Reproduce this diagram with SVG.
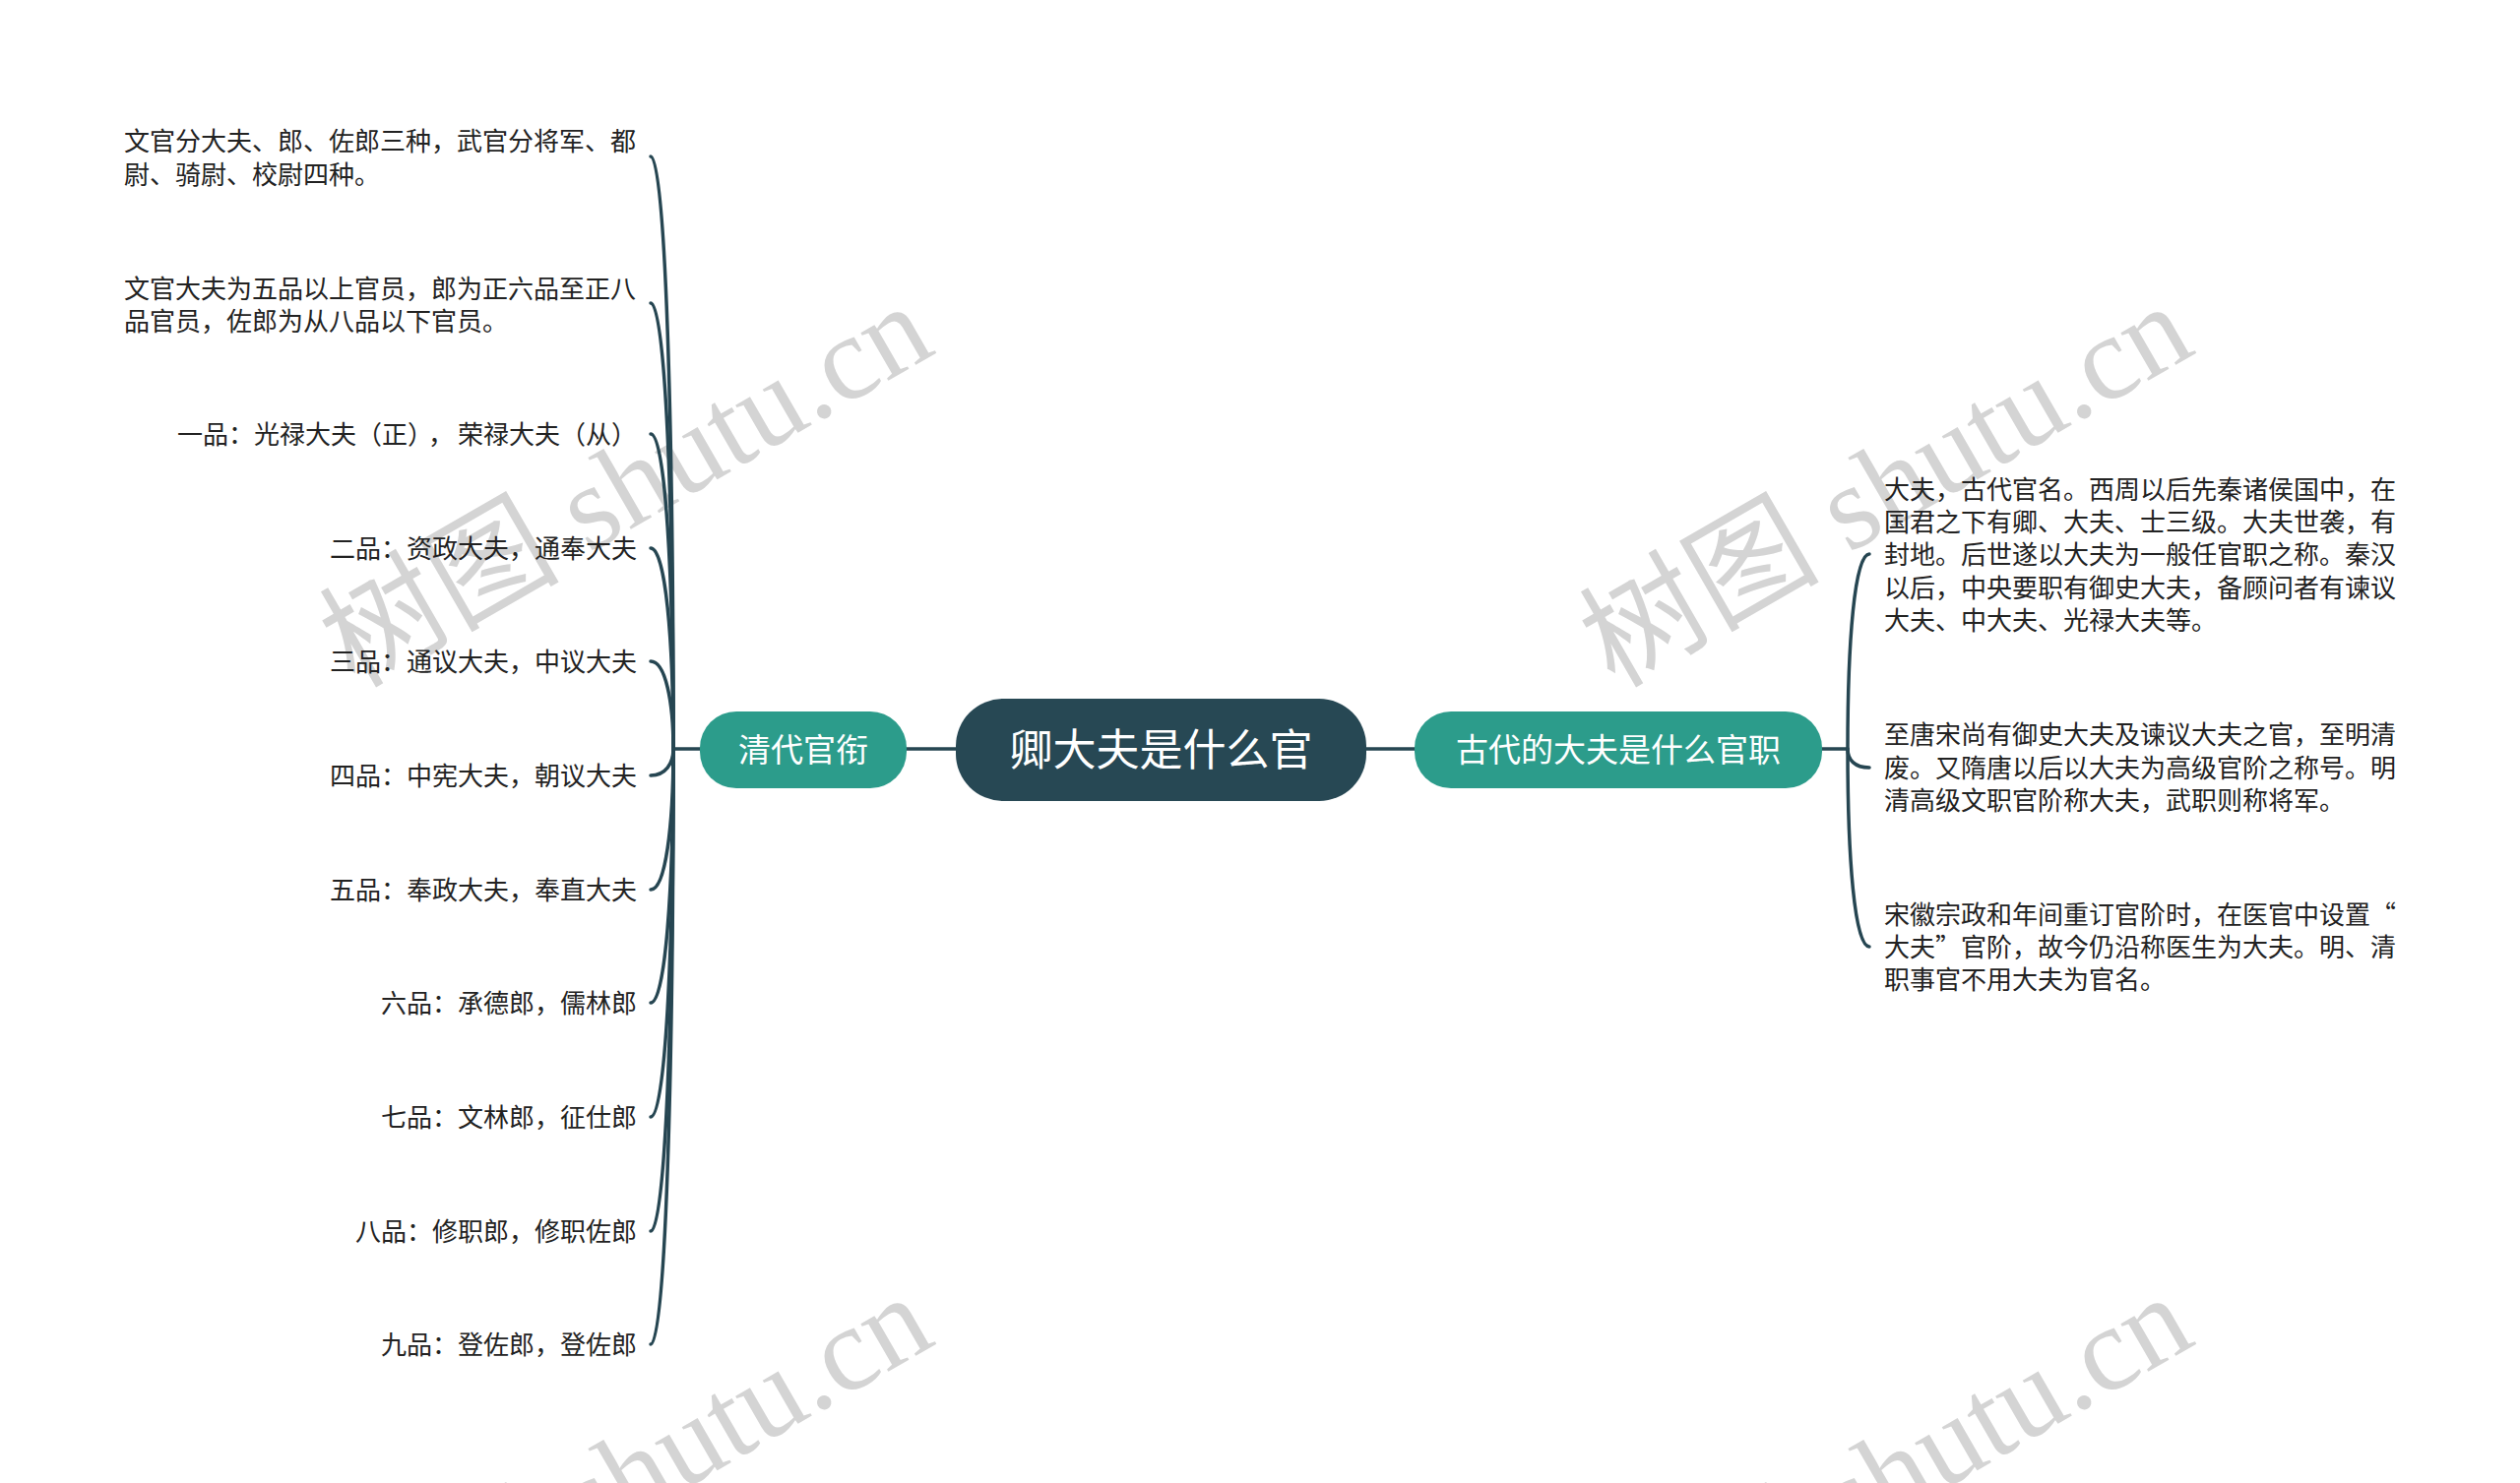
<svg xmlns="http://www.w3.org/2000/svg" width="2560" height="1507" viewBox="0 0 2560 1507">
<style>
.wm{font-family:"Liberation Serif","Noto Sans CJK SC",serif;font-size:122px;fill:#d4d4d4}
.leaf{font-family:"Noto Sans CJK SC","Noto Sans CJK TC",sans-serif;font-size:26px;fill:#222}
.node{font-family:"Noto Sans CJK SC","Noto Sans CJK TC",sans-serif;fill:#fff;text-anchor:middle}
.conn{fill:none;stroke:#264652;stroke-width:3.5;stroke-linecap:round}
</style>
<rect width="2560" height="1507" fill="#fff"/>
<g id="watermarks">
<text class="wm" transform="translate(360,700) rotate(-30)">树图 shutu.cn</text>
<text class="wm" transform="translate(1640,700) rotate(-30)">树图 shutu.cn</text>
<text class="wm" transform="translate(360,1707) rotate(-30)">树图 shutu.cn</text>
<text class="wm" transform="translate(1640,1707) rotate(-30)">树图 shutu.cn</text>
</g>
<g id="connectors">
<path class="conn" d="M921 761 L971 761"/>
<path class="conn" d="M1388 761 L1437 761"/>
<path class="conn" d="M711 761 L684 761"/>
<path class="conn" d="M1851 761 L1877 761"/>
<path class="conn" d="M684 761 C684 430 676 159 661 159"/>
<path class="conn" d="M684 761 C684 512 676 308 661 308"/>
<path class="conn" d="M684 761 C684 586 676 441 661 441"/>
<path class="conn" d="M684 761 C684 650 676 557 661 557"/>
<path class="conn" d="M684 761 C684 713 676 672 661 672"/>
<path class="conn" d="M684 761 C684 776 676 788 661 788"/>
<path class="conn" d="M684 761 C684 840 676 904 661 904"/>
<path class="conn" d="M684 761 C684 903 676 1019 661 1019"/>
<path class="conn" d="M684 761 C684 967 676 1135 661 1135"/>
<path class="conn" d="M684 761 C684 1030 676 1251 661 1251"/>
<path class="conn" d="M684 761 C684 1094 676 1366 661 1366"/>
<path class="conn" d="M1877 761 C1877 652 1884 563 1899 563"/>
<path class="conn" d="M1877 761 C1877 772 1884 780 1899 780"/>
<path class="conn" d="M1877 761 C1877 872 1884 962 1899 962"/>
</g>
<g id="root">
<rect x="971" y="710" width="417" height="104" rx="48" fill="#274854"/>
<text class="node" x="1179.5" y="778" font-size="44">卿大夫是什么官</text>
</g>
<g id="branch-left">
<rect x="711" y="723" width="210" height="78" rx="37" fill="#2c9c8b"/>
<text class="node" x="816" y="774" font-size="33">清代官衔</text>
</g>
<g id="branch-right">
<rect x="1437" y="723" width="414" height="78" rx="37" fill="#2c9c8b"/>
<text class="node" x="1644" y="774" font-size="33">古代的大夫是什么官职</text>
</g>
<g id="leaf-l1"><text class="leaf" x="126" y="153">文官分大夫、郎、佐郎三种，武官分将军、都</text><text class="leaf" x="126" y="187">尉、骑尉、校尉四种。</text></g>
<g id="leaf-l2"><text class="leaf" x="126" y="303">文官大夫为五品以上官员，郎为正六品至正八</text><text class="leaf" x="126" y="336">品官员，佐郎为从八品以下官员。</text></g>
<g id="leaf-l3"><text class="leaf" x="647" y="451" text-anchor="end">一品：光禄大夫（正）<tspan dx="8">，</tspan><tspan dx="4">荣禄大夫（从）</tspan></text></g>
<g id="leaf-l4"><text class="leaf" x="647" y="567" text-anchor="end">二品：资政大夫，通奉大夫</text></g>
<g id="leaf-l5"><text class="leaf" x="647" y="682" text-anchor="end">三品：通议大夫，中议大夫</text></g>
<g id="leaf-l6"><text class="leaf" x="647" y="798" text-anchor="end">四品：中宪大夫，朝议大夫</text></g>
<g id="leaf-l7"><text class="leaf" x="647" y="914" text-anchor="end">五品：奉政大夫，奉直大夫</text></g>
<g id="leaf-l8"><text class="leaf" x="647" y="1029" text-anchor="end">六品：承德郎，儒林郎</text></g>
<g id="leaf-l9"><text class="leaf" x="647" y="1145" text-anchor="end">七品：文林郎，征仕郎</text></g>
<g id="leaf-l10"><text class="leaf" x="647" y="1261" text-anchor="end">八品：修职郎，修职佐郎</text></g>
<g id="leaf-l11"><text class="leaf" x="647" y="1376" text-anchor="end">九品：登佐郎，登佐郎</text></g>
<g id="leaf-r1">
<text class="leaf" x="1914" y="507">大夫，古代官名。西周以后先秦诸侯国中，在</text>
<text class="leaf" x="1914" y="540">国君之下有卿、大夫、士三级。大夫世袭，有</text>
<text class="leaf" x="1914" y="573">封地。后世遂以大夫为一般任官职之称。秦汉</text>
<text class="leaf" x="1914" y="607">以后，中央要职有御史大夫，备顾问者有谏议</text>
<text class="leaf" x="1914" y="640">大夫、中大夫、光禄大夫等。</text>
</g>
<g id="leaf-r2">
<text class="leaf" x="1914" y="756">至唐宋尚有御史大夫及谏议大夫之官，至明清</text>
<text class="leaf" x="1914" y="790">废。又隋唐以后以大夫为高级官阶之称号。明</text>
<text class="leaf" x="1914" y="823">清高级文职官阶称大夫，武职则称将军。</text>
</g>
<g id="leaf-r3">
<text class="leaf" x="1914" y="939">宋徽宗政和年间重订官阶时，在医官中设置“</text>
<text class="leaf" x="1914" y="972">大夫”官阶，故今仍沿称医生为大夫。明、清</text>
<text class="leaf" x="1914" y="1005">职事官不用大夫为官名。</text>
</g>
</svg>
